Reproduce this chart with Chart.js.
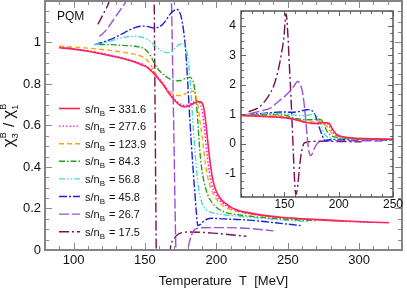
<!DOCTYPE html>
<html>
<head>
<meta charset="utf-8">
<script src="https://cdn.jsdelivr.net/npm/chart.js@4.4.1/dist/chart.umd.min.js"></script>
<style>
  html, body { margin: 0; padding: 0; background: #fff; }
  #wrap { position: relative; width: 407px; height: 290px; }
  #main { position: absolute; left: 0; top: 0; }
  #inset { position: absolute; left: 212px; top: 2px; }
</style>
</head>
<body>
<div id="wrap">
  <canvas id="main" width="407" height="290"></canvas>
  <canvas id="inset" width="195" height="212"></canvas>
</div>
<script>
// s/n_B values, one curve each
const seriesLabels = ['331.6', '277.6', '123.9', '84.3', '56.8', '45.8', '26.7', '17.5'];

// temperature [MeV] and chi3/chi1 for each curve
const temp331 = [90, 100, 110, 120, 130, 140, 145, 150, 153, 156, 160, 163, 166, 169, 172, 175, 178, 181, 184, 187, 189, 191, 192.5, 194, 195.5, 197.5, 199, 201, 204, 207, 211, 215, 222, 232, 245, 257, 275, 290, 305, 321];
const ratio331 = [0.975, 0.968, 0.958, 0.945, 0.93, 0.912, 0.9, 0.886, 0.872, 0.852, 0.82, 0.795, 0.762, 0.735, 0.712, 0.695, 0.69, 0.695, 0.706, 0.715, 0.714, 0.69, 0.62, 0.52, 0.43, 0.34, 0.30, 0.268, 0.238, 0.222, 0.203, 0.192, 0.18, 0.168, 0.158, 0.152, 0.145, 0.14, 0.135, 0.131];

const temp277 = [90, 100, 110, 120, 130, 140, 145, 150, 153, 156, 160, 163, 166, 169, 172, 175, 178, 181, 184, 187, 189, 190.5, 192, 193.5, 195, 197, 199, 201, 204, 207, 211, 215, 222, 232, 245, 257, 275, 290, 310];
const ratio277 = [0.977, 0.97, 0.96, 0.948, 0.933, 0.915, 0.904, 0.89, 0.876, 0.857, 0.826, 0.80, 0.768, 0.74, 0.718, 0.702, 0.697, 0.702, 0.712, 0.716, 0.70, 0.65, 0.56, 0.46, 0.38, 0.31, 0.275, 0.25, 0.228, 0.213, 0.198, 0.188, 0.177, 0.166, 0.156, 0.15, 0.143, 0.138, 0.133];

const temp124 = [90, 100, 110, 120, 130, 140, 147, 151, 154, 157, 160, 163, 166, 170, 173, 176, 179, 182, 184, 185.5, 187, 188.5, 190, 191, 192.5, 194, 196, 199, 203, 208, 215, 225, 240, 260, 275, 291];
const ratio124 = [0.982, 0.978, 0.973, 0.966, 0.958, 0.947, 0.935, 0.918, 0.892, 0.855, 0.82, 0.795, 0.772, 0.752, 0.744, 0.746, 0.756, 0.766, 0.765, 0.748, 0.70, 0.62, 0.55, 0.49, 0.41, 0.35, 0.30, 0.255, 0.222, 0.20, 0.185, 0.172, 0.16, 0.149, 0.143, 0.138];

const temp84 = [118, 125, 132, 138, 143, 148, 151, 154, 157, 160, 164, 168, 172, 175, 178, 181, 183, 184.5, 186, 187, 188.4, 190, 192, 194, 197, 201, 207, 215, 225, 240, 255, 270];
const ratio84 = [0.99, 0.99, 0.987, 0.985, 0.982, 0.975, 0.962, 0.935, 0.895, 0.865, 0.84, 0.822, 0.815, 0.817, 0.826, 0.832, 0.825, 0.79, 0.71, 0.62, 0.48, 0.38, 0.31, 0.265, 0.228, 0.20, 0.18, 0.17, 0.162, 0.153, 0.146, 0.141];

const temp57 = [114.6, 120, 126, 132, 138, 143, 148, 152, 156, 160, 163, 166, 169, 172, 175, 177, 178.5, 180, 181.5, 183, 184, 185, 186.5, 188, 189.5, 191, 194, 200, 210, 223, 240, 264];
const ratio57 = [0.99, 0.996, 1.008, 1.02, 1.028, 1.03, 1.025, 1.013, 0.992, 0.968, 0.955, 0.951, 0.958, 0.978, 0.993, 0.993, 0.975, 0.93, 0.83, 0.68, 0.57, 0.48, 0.36, 0.28, 0.235, 0.21, 0.188, 0.176, 0.166, 0.158, 0.148, 0.136];

const temp46 = [114.6, 120, 126, 132, 138, 143, 147, 150, 153, 156, 159, 162, 165, 168, 170.5, 172.5, 174, 175.5, 177, 178.5, 180, 181.5, 182.6, 184, 185, 186, 187, 188.5, 190.5, 193, 197, 205, 215, 223, 240, 259];
const ratio46 = [0.99, 1.0, 1.015, 1.035, 1.056, 1.072, 1.078, 1.079, 1.075, 1.07, 1.073, 1.085, 1.11, 1.14, 1.155, 1.159, 1.15, 1.12, 1.06, 0.96, 0.80, 0.62, 0.50, 0.36, 0.27, 0.18, 0.118, 0.122, 0.135, 0.147, 0.153, 0.15, 0.147, 0.144, 0.132, 0.118];

const temp27 = [118, 120, 124, 127, 130, 133, 136.6, 140, 145, 150, 155, 159, 162, 164, 166, 168, 170, 171.5, 173, 174.5, 176, 178, 180, 182.5, 185, 190, 200, 223, 240];
const ratio27 = [1.03, 1.04, 1.07, 1.10, 1.13, 1.16, 1.20, 1.30, 1.45, 1.60, 1.78, 1.97, 2.11, 2.06, 1.86, 1.40, 0.65, 0.05, -0.32, -0.40, -0.30, -0.12, 0.0, 0.07, 0.10, 0.107, 0.108, 0.104, 0.092];

const temp17 = [117, 121, 125, 130, 135, 140, 144, 147, 149.5, 151.5, 153, 154.5, 156, 157, 158, 159, 160.5, 162, 163.5, 165, 166.5, 167.7, 170, 173, 176, 182, 200, 221];
const ratio17 = [1.087, 1.14, 1.20, 1.36, 1.60, 1.95, 2.45, 3.0, 3.6, 4.42, 3.8, 2.7, 1.6, 0.75, -0.1, -1.0, -1.72, -1.5, -0.95, -0.45, -0.15, 0.0, 0.05, 0.075, 0.084, 0.087, 0.08, 0.066];

const seriesTemps = [temp331, temp277, temp124, temp84, temp57, temp46, temp27, temp17];
const seriesRatios = [ratio331, ratio277, ratio124, ratio84, ratio57, ratio46, ratio27, ratio17];

// tick labels
const mainXTicks = [100, 150, 200, 250, 300];
const mainYTicks = [0, 0.2, 0.4, 0.6, 0.8, 1];
const insetXTicks = [150, 200, 250];
const insetYTicks = [-1, 0, 1, 2, 3, 4];

// line styles
const lineStyles = [
  { color: '#ff2255', dash: [] },
  { color: '#ff00ff', dash: [1.5, 2] },
  { color: '#ffa500', dash: [5, 3] },
  { color: '#22a022', dash: [6, 2, 1.5, 2] },
  { color: '#40e0d0', dash: [6, 2, 1.5, 2, 1.5, 2] },
  { color: '#1f1fe6', dash: [8, 2, 2, 2] },
  { color: '#9a50d8', dash: [10, 3] },
  { color: '#7a1050', dash: [10, 3, 2, 3] }
];

const FONT = 'Liberation Sans, Arial, Helvetica, sans-serif';

function makeDatasets() {
  return seriesLabels.map((lab, i) => ({
    label: lab,
    data: seriesTemps[i].map((t, j) => ({ x: t, y: seriesRatios[i][j] })),
    borderColor: lineStyles[i].color,
    borderDash: lineStyles[i].dash,
    borderWidth: i === 0 ? 1.6 : 1.4,
    pointRadius: 0,
    fill: false,
    cubicInterpolationMode: 'monotone'
  }));
}

// frame plus inward ticks on all four sides
const frameTicks = {
  id: 'frameTicks',
  beforeDraw(chart) {
    const { ctx, chartArea: a } = chart;
    ctx.save();
    ctx.fillStyle = '#fff';
    ctx.fillRect(a.left, a.top, a.width, a.height);
    ctx.restore();
  },
  afterDatasetsDraw(chart, args, opts) {
    const { ctx, chartArea: a, scales } = chart;
    ctx.save();
    ctx.strokeStyle = opts.color;
    ctx.lineWidth = 1;
    const run = (scale, step, len, horiz) => {
      const i0 = Math.ceil(scale.min / step - 1e-6), i1 = Math.floor(scale.max / step + 1e-6);
      for (let i = i0; i <= i1; i++) {
        const p = Math.round(scale.getPixelForValue(i * step)) + 0.5;
        ctx.beginPath();
        if (horiz) {
          ctx.moveTo(p, a.bottom); ctx.lineTo(p, a.bottom - len);
          ctx.moveTo(p, a.top); ctx.lineTo(p, a.top + len);
        } else {
          ctx.moveTo(a.left, p); ctx.lineTo(a.left + len, p);
          ctx.moveTo(a.right, p); ctx.lineTo(a.right - len, p);
        }
        ctx.stroke();
      }
    };
    run(scales.x, opts.xMinor, opts.minorLen, true);
    run(scales.x, opts.xMajor, opts.majorLen, true);
    run(scales.y, opts.yMinor, opts.minorLen, false);
    run(scales.y, opts.yMajor, opts.majorLen, false);
    ctx.lineWidth = opts.frameWidth;
    ctx.strokeStyle = opts.frameColor;
    ctx.strokeRect(a.left, a.top, a.width, a.height);
    ctx.restore();
  }
};

// draws a run of text pieces; {sub, sup} pieces are stacked
function richWidth(ctx, parts) {
  let w = 0;
  parts.forEach(p => {
    ctx.font = p.s + 'px ' + FONT;
    if (p.t !== undefined) w += ctx.measureText(p.t).width;
    else w += Math.max(ctx.measureText(p.sub || '').width, ctx.measureText(p.sup || '').width) + 1;
  });
  return w;
}
function drawRich(ctx, parts, x, y) {
  parts.forEach(p => {
    ctx.font = p.s + 'px ' + FONT;
    if (p.t !== undefined) {
      ctx.fillText(p.t, x, y);
      x += ctx.measureText(p.t).width;
    } else {
      if (p.sub) ctx.fillText(p.sub, x, y + p.down);
      if (p.sup) ctx.fillText(p.sup, x, y - p.up);
      x += Math.max(ctx.measureText(p.sub || '').width, ctx.measureText(p.sup || '').width) + 1;
    }
  });
}

const mainDecor = {
  id: 'mainDecor',
  afterDraw(chart) {
    const ctx = chart.ctx;
    ctx.save();
    ctx.fillStyle = '#111';
    ctx.textBaseline = 'alphabetic';

    // y axis title
    const yTitle = [
      { t: 'χ', s: 17 }, { sub: '3', sup: 'B', s: 9, down: 4, up: 8 },
      { t: ' / ', s: 15 },
      { t: 'χ', s: 17 }, { sub: '1', sup: 'B', s: 9, down: 4, up: 8 }
    ];
    ctx.translate(14, 125);
    ctx.rotate(-Math.PI / 2);
    drawRich(ctx, yTitle, -richWidth(ctx, yTitle) / 2, 0);
    ctx.setTransform(1, 0, 0, 1, 0, 0);

    // model label
    ctx.font = '12px ' + FONT;
    ctx.fillText('PQM', 57, 20);

    // legend
    chart.data.datasets.forEach((ds, i) => {
      const y = 108.5 + i * 17.6;
      ctx.save();
      ctx.strokeStyle = ds.borderColor;
      ctx.lineWidth = ds.borderWidth;
      ctx.setLineDash(ds.borderDash);
      ctx.beginPath();
      ctx.moveTo(59, y); ctx.lineTo(80, y);
      ctx.stroke();
      ctx.restore();
      const parts = [{ t: 's/n', s: 11 }, { sub: 'B', s: 8, down: 3 }, { t: ' = ' + ds.label, s: 11 }];
      drawRich(ctx, parts, 85, y + 4);
    });
    ctx.restore();
  }
};

function axisFont(size) { return { family: FONT, size: size }; }
function fixX(h) { return s => { s.height = h; s.paddingLeft = 0; s.paddingRight = 0; }; }
function fixY(w) { return s => { s.width = w; s.paddingTop = 0; s.paddingBottom = 0; }; }

new Chart(document.getElementById('main'), {
  type: 'line',
  data: { datasets: makeDatasets() },
  options: {
    responsive: false,
    animation: false,
    layout: { padding: { left: 0, right: 5, top: 1, bottom: 0 } },
    plugins: {
      legend: { display: false },
      tooltip: { enabled: false },
      frameTicks: { color: '#888', frameColor: '#858585', frameWidth: 2, xMinor: 10, xMajor: 50, yMinor: 0.05, yMajor: 0.2, minorLen: 4, majorLen: 7 }
    },
    scales: {
      x: {
        type: 'linear', min: 80, max: 330,
        grid: { display: false, drawTicks: false },
        border: { display: false },
        afterFit: fixX(40),
        afterBuildTicks: s => { s.ticks = mainXTicks.map(v => ({ value: v })); },
        ticks: { font: axisFont(13), color: '#111', padding: 3, maxRotation: 0 },
        title: { display: true, text: 'Temperature  T  [MeV]', font: axisFont(13), color: '#111', padding: { top: 0, bottom: 1 } }
      },
      y: {
        type: 'linear', min: 0, max: 1.2,
        grid: { display: false, drawTicks: false },
        border: { display: false },
        afterFit: fixY(45),
        afterBuildTicks: s => { s.ticks = mainYTicks.map(v => ({ value: v })); },
        ticks: { font: axisFont(13), color: '#111', padding: 4, callback: v => String(v) }
      }
    }
  },
  plugins: [frameTicks, mainDecor]
});

new Chart(document.getElementById('inset'), {
  type: 'line',
  data: { datasets: makeDatasets() },
  options: {
    responsive: false,
    animation: false,
    layout: { padding: { left: 0, right: 14, top: 9, bottom: 0 } },
    plugins: {
      legend: { display: false },
      tooltip: { enabled: false },
      frameTicks: { color: '#666', frameColor: '#555', frameWidth: 1.5, xMinor: 10, xMajor: 50, yMinor: 0.25, yMajor: 1, minorLen: 3, majorLen: 5 }
    },
    scales: {
      x: {
        type: 'linear', min: 110, max: 250,
        grid: { display: false, drawTicks: false },
        border: { display: false },
        afterFit: fixX(17),
        afterBuildTicks: s => { s.ticks = insetXTicks.map(v => ({ value: v })); },
        ticks: { font: axisFont(12), color: '#111', padding: 0, maxRotation: 0 }
      },
      y: {
        type: 'linear', min: -1.8, max: 4.5,
        grid: { display: false, drawTicks: false },
        border: { display: false },
        afterFit: fixY(29),
        afterBuildTicks: s => { s.ticks = insetYTicks.map(v => ({ value: v })); },
        ticks: { font: axisFont(12), color: '#111', padding: 5 }
      }
    }
  },
  plugins: [frameTicks]
});
</script>
</body>
</html>
